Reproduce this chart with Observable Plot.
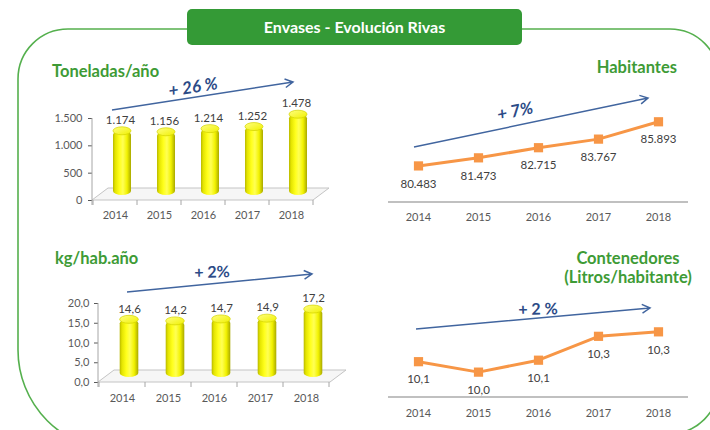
<!DOCTYPE html>
<html><head><meta charset="utf-8">
<script src="https://cdn.jsdelivr.net/npm/d3@7"></script>
<script src="https://cdn.jsdelivr.net/npm/@observablehq/plot@0.6"></script>
<style>
html,body{margin:0;padding:0;background:#fff;}
#root{position:relative;width:710px;height:430px;overflow:hidden;background:#fff;font-family:Lato,"Open Sans",sans-serif;}
#root svg{position:absolute;left:0;top:0;}
</style></head><body><div id="root"></div>
<script>
// ---- data ----
const years = ["2014", "2015", "2016", "2017", "2018"];
const toneladas = [1174, 1156, 1214, 1252, 1478];
const habitantes = [80483, 81473, 82715, 83767, 85893];
const kgHabAno = [14.6, 14.2, 14.7, 14.9, 17.2];
const contenedores = [10.10, 10.03, 10.11, 10.27, 10.30];
const toneladasTicks = [0, 500, 1000, 1500];
const kgTicks = [0, 5, 10, 15, 20];
const titleText = "Envases - Evolución Rivas";
const headings = {
  toneladas: "Toneladas/año",
  habitantes: "Habitantes",
  kg: "kg/hab.año",
  cont1: "Contenedores",
  cont2: "(Litros/habitante)"
};
const growth = {toneladas: "+ 26 %", habitantes: "+ 7%", kg: "+ 2%", cont: "+ 2 %"};

const es = d3.formatLocale({decimal: ",", thousands: ".", grouping: [3], currency: ["", " €"]});
const fmtInt = es.format(",d");
const fmt1 = es.format(".1f");

const W = 710, H = 430;
const root = document.getElementById("root");
const GREEN = "#3e9b36", BLUE_LINE = "#41659f", BLUE_TEXT = "#2c4b87", ORANGE = "#f79646";
const FONT = "Lato, 'Open Sans', sans-serif";

// ---- decoration layer (behind) ----
const deco = d3.select(root).append("svg").attr("width", W).attr("height", H);
const defs = deco.append("defs");
const cg = defs.append("linearGradient").attr("id", "cylGrad").attr("x1", 0).attr("x2", 1).attr("y1", 0).attr("y2", 0);
[[0, "#b8b800"], [0.12, "#e4e400"], [0.35, "#ffff1a"], [0.55, "#ffff55"], [0.78, "#f2f200"], [1, "#a9a900"]]
  .forEach(([o, c]) => cg.append("stop").attr("offset", o).attr("stop-color", c));
const capg = defs.append("linearGradient").attr("id", "capGrad").attr("x1", 0).attr("x2", 1).attr("y1", 0).attr("y2", 1);
[[0, "#ffff80"], [1, "#f0f000"]].forEach(([o, c]) => capg.append("stop").attr("offset", o).attr("stop-color", c));

// rounded border
deco.append("path").attr("d", "M190,29 H68 A50,50 0 0 0 18,79 V350 A100,100 0 0 0 118,450")
  .attr("fill", "none").attr("stroke", "#55b04e").attr("stroke-width", 1.6);
deco.append("path").attr("d", "M520,29 H670 A49,49 0 0 1 719,78 V384 A50,50 0 0 1 669,434")
  .attr("fill", "none").attr("stroke", "#55b04e").attr("stroke-width", 1.6);
// title banner
deco.append("rect").attr("x", 187).attr("y", 9).attr("width", 335).attr("height", 36).attr("rx", 5)
  .attr("fill", "#349a36");
deco.append("text").attr("x", 354.5).attr("y", 33).attr("text-anchor", "middle")
  .attr("fill", "#fff").attr("font-family", FONT).attr("font-weight", "bold").attr("font-size", 16)
  .text(titleText);
function heading(txt, x, y, anchor) {
  deco.append("text").attr("x", x).attr("y", y).attr("text-anchor", anchor || "start")
    .attr("fill", GREEN).attr("font-family", FONT).attr("font-weight", "bold").attr("font-size", 16.5)
    .text(txt);
}
heading(headings.toneladas, 52, 77);
heading(headings.habitantes, 677, 73, "end");
heading(headings.kg, 55, 264);
heading(headings.cont1, 628, 264, "middle");
heading(headings.cont2, 628, 283, "middle");

// ---- charts ----
function baseStyle() {
  return {background: "transparent", fontFamily: FONT, fontSize: "11px", color: "#595959", overflow: "visible"};
}

function floorMark(depthX, depthY) {
  return function (index, scales, values, dims) {
    const {width, height, marginTop, marginRight, marginBottom, marginLeft} = dims;
    const x0 = marginLeft, x1 = width - marginRight, y0 = height - marginBottom;
    const g = d3.create("svg:g");
    g.append("path")
      .attr("d", `M${x0},${y0}L${x0 + depthX},${y0 - depthY}H${x1 + depthX}L${x1},${y0}Z`)
      .attr("fill", "#f6f6f6").attr("stroke", "#c4c4c4").attr("stroke-width", 1);
    g.append("line").attr("x1", x0).attr("x2", x0).attr("y1", marginTop).attr("y2", y0 + 5)
      .attr("stroke", "#a6a6a6");
    const xs = scales && scales.x;
    let bounds;
    if (typeof xs === "function" && xs.bandwidth) {
      bounds = years.map(y => xs(y)); bounds.push(bounds[bounds.length - 1] + xs.bandwidth());
    } else {
      bounds = d3.range(years.length + 1).map(i => x0 + i * (x1 - x0) / years.length);
    }
    bounds.forEach(b => g.append("line").attr("x1", b).attr("x2", b).attr("y1", y0).attr("y2", y0 + 5)
      .attr("stroke", "#a6a6a6"));
    return g.node();
  };
}

function barChart({values, ticks, tickFmt, labelFmt, left, right, top, bottom, domain, inset, tickPad, xPad, labelDx}) {
  const data = years.map((y, i) => ({year: y, v: values[i]}));
  const common = {x: "year", dx: 7, dy: -5};
  return Plot.plot({
    width: W, height: H,
    marginLeft: left, marginRight: W - right, marginTop: top, marginBottom: H - bottom,
    style: baseStyle(),
    x: {type: "band", domain: years, padding: 0, label: null, tickSize: 0, tickPadding: xPad},
    y: {domain, ticks, tickFormat: tickFmt, tickSize: 4, tickPadding: tickPad, label: null},
    marks: [
      floorMark(16, 12),
      Plot.barY(data, {...common, y: "v", fill: "url(#cylGrad)", insetLeft: inset, insetRight: inset, rx: 9.5, ry: 4}),
      Plot.barY(data, {...common, y1: "v", y2: "v", insetTop: -4, insetBottom: -4,
        insetLeft: inset, insetRight: inset, rx: 9.5, ry: 4, fill: "url(#capGrad)", stroke: "#d2d200", strokeWidth: 0.7}),
      Plot.text(data, {x: "year", y: "v", text: d => labelFmt(d.v), dy: -16, dx: labelDx, fill: "#404040", fontSize: 11.5})
    ]
  });
}

function baseLine() {
  return function (index, scales, values, dims) {
    const {width, height, marginRight, marginBottom, marginLeft} = dims;
    const g = d3.create("svg:g");
    g.append("line").attr("x1", marginLeft).attr("x2", width - marginRight)
      .attr("y1", height - marginBottom).attr("y2", height - marginBottom)
      .attr("stroke", "#c0c0c0").attr("stroke-width", 2);
    return g.node();
  };
}

function lineChart({values, labelFmt, left, right, top, bottom, domain, xPad}) {
  const data = years.map((y, i) => ({year: y, v: values[i]}));
  return Plot.plot({
    width: W, height: H,
    marginLeft: left, marginRight: W - right, marginTop: top, marginBottom: H - bottom,
    style: baseStyle(),
    x: {type: "point", domain: years, padding: 0.5, label: null, tickSize: 0, tickPadding: xPad},
    y: {domain, axis: null},
    marks: [
      baseLine(),
      Plot.line(data, {x: "year", y: "v", stroke: ORANGE, strokeWidth: 3}),
      Plot.dot(data, {x: "year", y: "v", symbol: "square", r: 5.2, fill: ORANGE, stroke: null}),
      Plot.text(data, {x: "year", y: "v", text: d => labelFmt(d.v), dy: 18, fill: "#404040", fontSize: 11.5})
    ]
  });
}

root.appendChild(barChart({values: toneladas, ticks: toneladasTicks, tickFmt: fmtInt, labelFmt: fmtInt,
  left: 92, right: 313, top: 118, bottom: 200, domain: [0, 1500], inset: 13, tickPad: 6, xPad: 11, labelDx: 5}));
root.appendChild(barChart({values: kgHabAno, ticks: kgTicks, tickFmt: fmt1, labelFmt: fmt1,
  left: 98, right: 330, top: 303, bottom: 382, domain: [0, 20], inset: 13.7, tickPad: 5, xPad: 12, labelDx: 7}));
root.appendChild(lineChart({values: habitantes, labelFmt: fmtInt,
  left: 388, right: 688, top: 100, bottom: 202, domain: [76000, 88500], xPad: 11}));
root.appendChild(lineChart({values: contenedores, labelFmt: fmt1,
  left: 388, right: 688, top: 300, bottom: 397, domain: [9.86, 10.51], xPad: 12}));

// ---- growth arrows (annotation layer, on top) ----
const ann = d3.select(root).append("svg").attr("width", W).attr("height", H).style("pointer-events", "none");
function arrow(x1, y1, x2, y2, label, tx, ty, italic, size) {
  const a = Math.atan2(y2 - y1, x2 - x1), L = 9, s = 0.5;
  ann.append("path")
    .attr("d", `M${x1},${y1}L${x2},${y2}M${x2 - L * Math.cos(a - s)},${y2 - L * Math.sin(a - s)}L${x2},${y2}L${x2 - L * Math.cos(a + s)},${y2 - L * Math.sin(a + s)}`)
    .attr("fill", "none").attr("stroke", BLUE_LINE).attr("stroke-width", 1.5);
  const deg = Math.round(a * 180 / Math.PI * 10) / 10;
  ann.append("text").attr("transform", `translate(${tx},${ty}) rotate(${italic ? deg : deg * 0.3})`)
    .attr("text-anchor", "middle").attr("dy", "0.35em")
    .attr("fill", BLUE_TEXT).attr("font-family", FONT).attr("font-weight", "bold")
    .attr("font-style", italic ? "italic" : "normal").attr("font-size", size)
    .text(label);
}
arrow(112, 110, 293, 82, growth.toneladas, 193, 87, true, 17);
arrow(414, 147, 648, 98, growth.habitantes, 515, 111, true, 17);
arrow(127, 292, 312, 274, growth.kg, 212, 272, false, 16);
arrow(416, 329, 650, 308, growth.cont, 538, 309, false, 16);
</script></body></html>
